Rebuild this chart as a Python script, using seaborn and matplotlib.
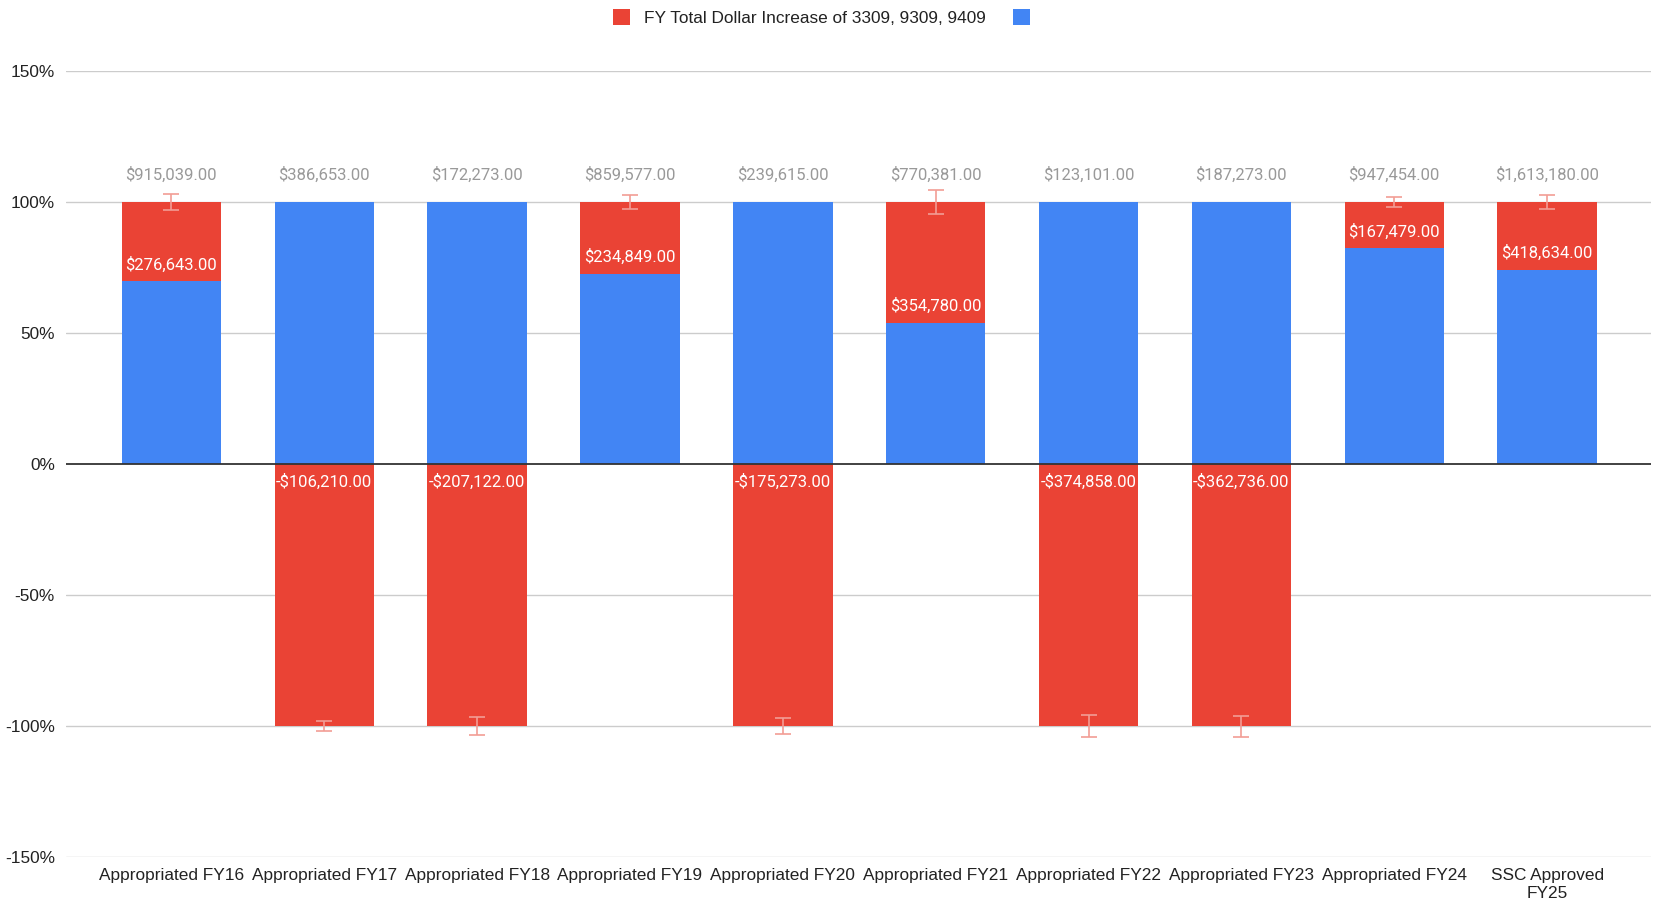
"""Stacked 100% bar chart of FY appropriations, dollar increase vs base."""

import matplotlib.pyplot as plt
import numpy as np
import pandas as pd
import seaborn as sns
from matplotlib.patches import Patch
from matplotlib.ticker import FuncFormatter

categories = [
    "Appropriated FY16", "Appropriated FY17", "Appropriated FY18",
    "Appropriated FY19", "Appropriated FY20", "Appropriated FY21",
    "Appropriated FY22", "Appropriated FY23", "Appropriated FY24",
    "SSC Approved\nFY25",
]
increase = [276643, -106210, -207122, 234849, -175273, 354780,
            -374858, -362736, 167479, 418634]
base = [638396, 492863, 379395, 624728, 414888, 415601,
        497959, 550009, 779975, 1194546]
# error bar half-widths, in percentage points
err_pp = [3.0, 1.8, 3.5, 2.7, 3.0, 4.6, 4.3, 4.0, 1.8, 2.6]

RED = "#EA4335"
BLUE = "#4285F4"
ERR = "#F29D95"
ARIAL = ["Liberation Sans", "DejaVu Sans"]

sns.set_style("white")
plt.rcParams["font.family"] = ["Roboto", "DejaVu Sans"]

inc = np.array(increase, dtype=float)
bas = np.array(base, dtype=float)
pos_sum = bas + np.clip(inc, 0, None)
blue_pct = bas / pos_sum * 100
red_end = np.where(inc > 0, 100.0, -100.0)
totals = inc + bas

df = pd.DataFrame({"cat": categories, "blue": blue_pct, "red": red_end})

fig = plt.figure(figsize=(16.57, 9.05), dpi=100)
ax = fig.add_axes([0.0398, 0.053, 0.9566, 0.8685])

sns.barplot(data=df, x="cat", y="red", color=RED, width=0.65,
            saturation=1, linewidth=0, ax=ax, zorder=2)
sns.barplot(data=df, x="cat", y="blue", color=BLUE, width=0.65,
            saturation=1, linewidth=0, ax=ax, zorder=3)

ax.errorbar(np.arange(len(categories)), red_end, yerr=err_pp, fmt="none",
            ecolor=ERR, elinewidth=1.2, capsize=6, capthick=1.2, zorder=4)

for i, (v, t) in enumerate(zip(inc, totals)):
    ax.annotate(f"${t:,.2f}", xy=(i, 100), xytext=(0, 27),
                textcoords="offset pixels", ha="center", va="center",
                color="#999999", fontsize=12)
    txt = f"-${abs(v):,.2f}" if v < 0 else f"${v:,.2f}"
    if v > 0:
        ax.annotate(txt, xy=(i, blue_pct[i]), xytext=(0, 17),
                    textcoords="offset pixels", ha="center", va="center",
                    color="white", fontsize=12, zorder=5)
    else:
        ax.annotate(txt, xy=(i, 0), xytext=(0, -18),
                    textcoords="offset pixels", ha="center", va="center",
                    color="white", fontsize=12, zorder=5)

ax.set_ylim(-150, 150)
ax.set_xlim(-0.69, len(categories) - 1 + 0.68)
ax.set_yticks([-150, -100, -50, 0, 50, 100, 150])
ax.yaxis.set_major_formatter(FuncFormatter(lambda v, _: f"{v:.0f}%"))
for y in [-150, -100, -50, 50, 100, 150]:
    ax.axhline(y, color="#CCCCCC", lw=1, zorder=1)
ax.axhline(0, color="#333333", lw=1.3, zorder=4)
ax.set_xlabel("")
ax.set_ylabel("")
ax.tick_params(axis="both", length=0, labelsize=12.4, colors="#222222")
ax.tick_params(axis="y", pad=8)
ax.tick_params(axis="x", pad=8)
for lab in ax.get_xticklabels() + ax.get_yticklabels():
    lab.set_family(ARIAL)
sns.despine(ax=ax, left=True, bottom=True)

handles = [Patch(facecolor=RED, edgecolor="none"),
           Patch(facecolor=BLUE, edgecolor="none")]
fig.legend(handles, ["FY Total Dollar Increase of 3309, 9309, 9409", ""],
           loc="upper center", bbox_to_anchor=(0.5, 1.007), ncol=2,
           frameon=False, prop={"family": ARIAL, "size": 12.4},
           handlelength=1.0, handleheight=1.0,
           columnspacing=1.6, handletextpad=0.8, labelcolor="#222222")

fig.savefig("out.png", dpi=100)
